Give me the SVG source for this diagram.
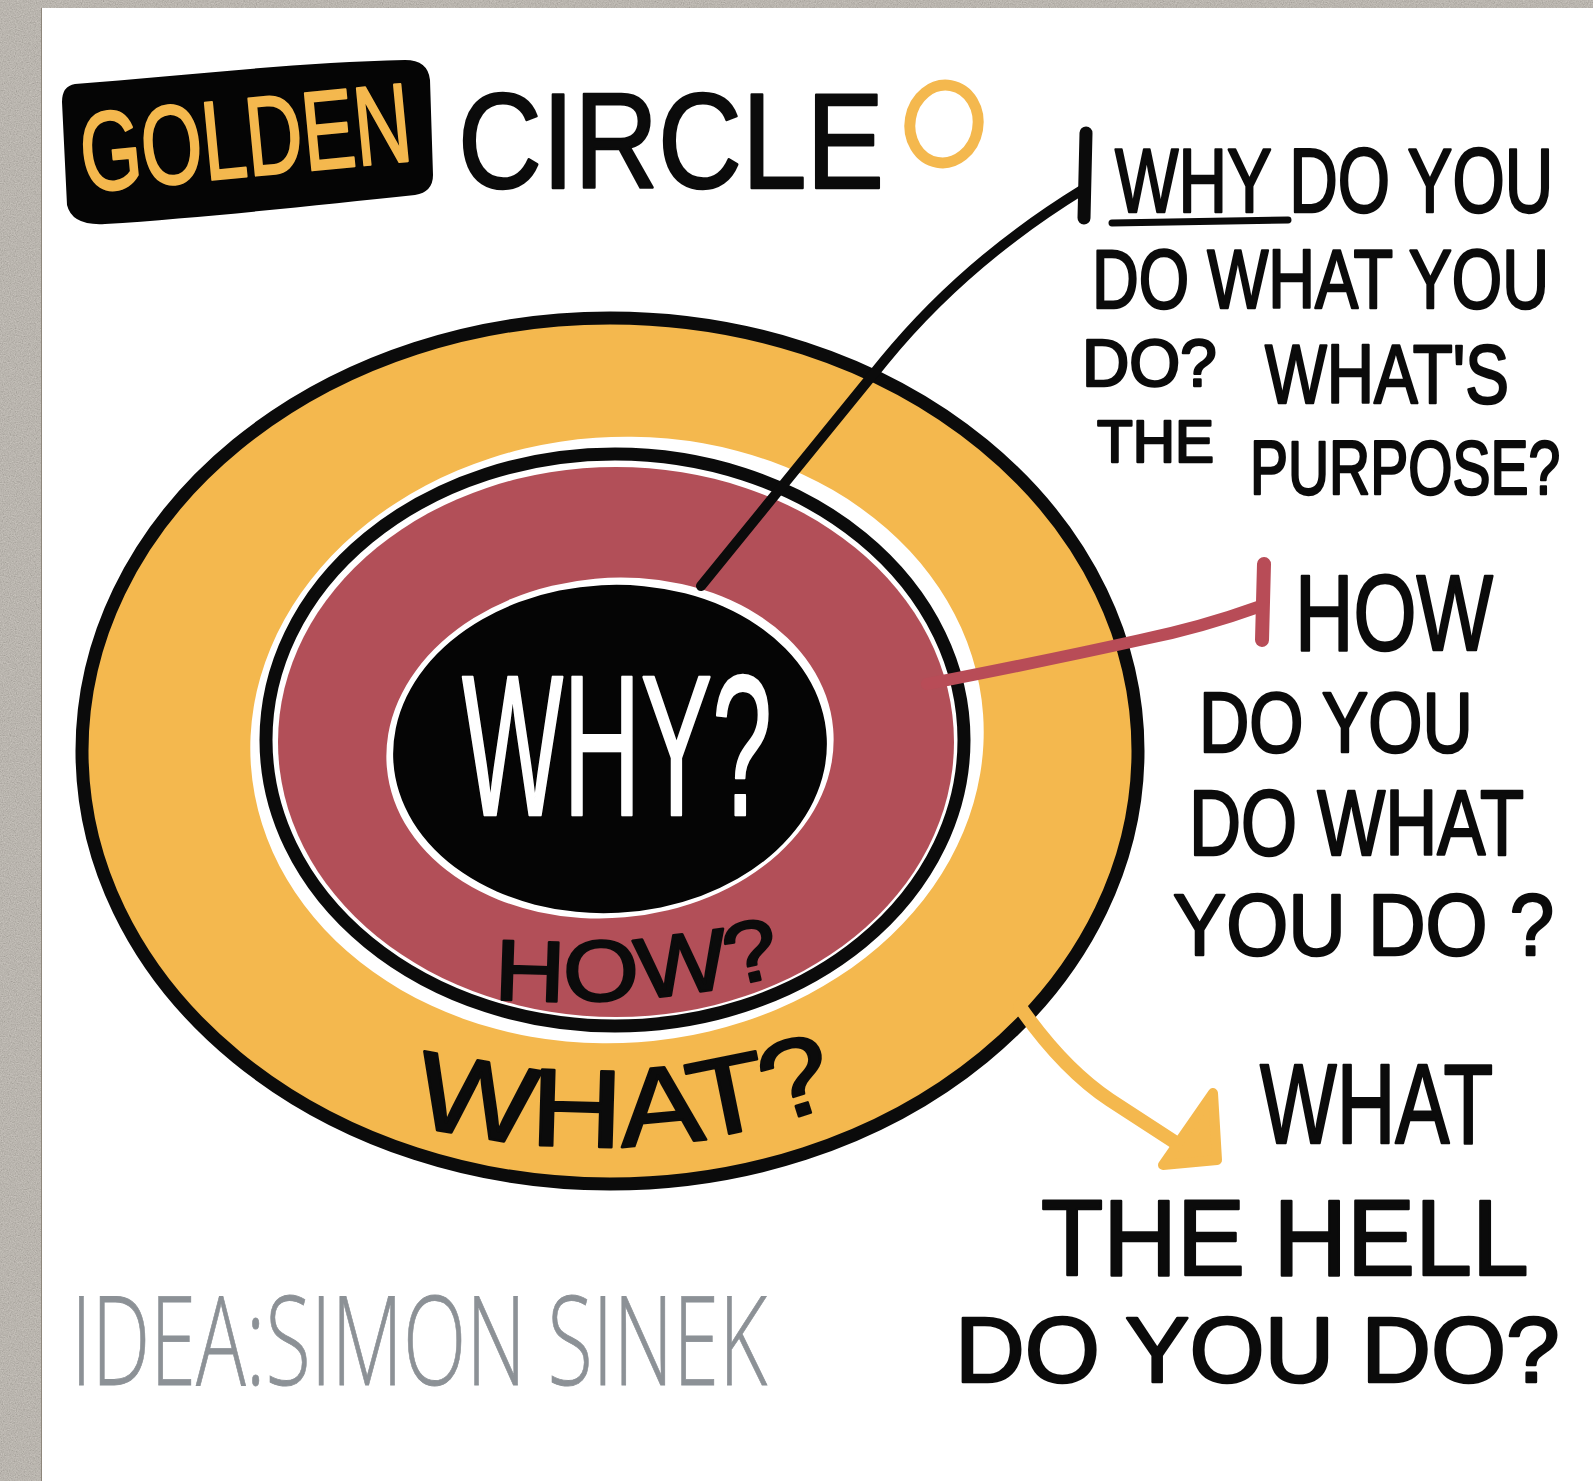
<svg xmlns="http://www.w3.org/2000/svg" width="1593" height="1481" viewBox="0 0 1593 1481">
<defs>
<style>
.hand{font-family:"Liberation Sans","DejaVu Sans",sans-serif;fill:#0b0b0b;stroke:#0b0b0b;stroke-width:2.5;stroke-linejoin:round;}
.inv{fill:#ffffff;stroke:#ffffff;}
.gold{fill:#F4B84E;stroke:#F4B84E;}
.gray{font-family:"Open Sans","Lato","Liberation Sans",sans-serif;font-weight:300;fill:#8C9196;stroke:#8C9196;stroke-width:0.8;}
.ink{fill:none;stroke:#0b0b0b;stroke-linecap:round;stroke-linejoin:round;}
</style>
<filter id="grain" x="0" y="0" width="100%" height="100%">
<feTurbulence type="fractalNoise" baseFrequency="0.85" numOctaves="2" seed="4" result="n"/>
<feColorMatrix in="n" type="matrix" values="0.33 0.33 0.33 0 0  0.33 0.33 0.33 0 0  0.33 0.33 0.33 0 0  0 0 0 0 0.45"/>
</filter>
<path id="whatArc" d="M 398 1120 Q 640 1184 862 1094"/>
<path id="howArc" d="M 494 999 Q 665 1010 805 968"/>
</defs>

<!-- background board -->
<rect x="0" y="0" width="1593" height="1481" fill="#B8B0A4"/>
<rect x="0" y="0" width="1593" height="1481" filter="url(#grain)"/>
<rect x="41" y="8" width="1552" height="1473" fill="#ffffff"/>
<line x1="41.5" y1="8" x2="41.5" y2="1481" stroke="#8d867b" stroke-width="1"/>

<!-- golden circle rings -->
<g id="circle-what">
<ellipse cx="610" cy="751" rx="528" ry="433" fill="#F4B84E" stroke="#0b0b0b" stroke-width="13"/>
<ellipse cx="617" cy="740" rx="367" ry="303" transform="rotate(-4 617 740)" fill="#ffffff"/>
</g>
<g id="circle-how">
<ellipse cx="615" cy="740" rx="349" ry="286" fill="#ffffff" stroke="#0b0b0b" stroke-width="13"/>
<ellipse cx="616" cy="742" rx="338" ry="275" fill="#B24F58"/>
<ellipse cx="610" cy="748" rx="224" ry="170" transform="rotate(-5 610 748)" fill="#ffffff"/>
</g>
<g id="circle-why">
<ellipse cx="610" cy="749" rx="217" ry="164" transform="rotate(-3 610 749)" fill="#050505"/>
<text class="hand inv" transform="translate(462 815) scale(0.536 1)" font-size="200" textLength="578" lengthAdjust="spacingAndGlyphs" stroke-width="4">WHY?</text>
</g>
<g id="ring-label-how">
<text class="hand" font-size="86" stroke-width="3"><textPath href="#howArc" textLength="292" lengthAdjust="spacingAndGlyphs">HOW?</textPath></text>
</g>
<g id="ring-label-what">
<text class="hand" font-size="110" stroke-width="3"><textPath href="#whatArc" startOffset="14" textLength="436" lengthAdjust="spacingAndGlyphs">WHAT?</textPath></text>
</g>

<!-- title -->
<g id="title">
<path d="M 75 84 C 180 76 300 62 405 60 Q 428 60 430 80 L 433 175 Q 433 192 415 195 C 320 205 200 218 105 224 Q 72 226 67 205 L 62 102 Q 62 86 75 84 Z" fill="#050505"/>
<text class="hand gold" transform="rotate(-5.5 84 192) translate(84 192) scale(0.70 1)" font-size="112" textLength="474" lengthAdjust="spacingAndGlyphs">GOLDEN</text>
<text class="hand" transform="translate(458 188) scale(0.842 1)" font-size="136" textLength="506" lengthAdjust="spacingAndGlyphs" stroke-width="3">CIRCLE</text>
<ellipse cx="944" cy="124" rx="34" ry="39" transform="rotate(10 944 124)" fill="none" stroke="#F4B84E" stroke-width="11"/>
</g>

<!-- connectors -->
<g id="connectors">
<path class="ink" d="M 701 586 L 884 361 Q 965 262 1082 190" stroke-width="10"/>
<line class="ink" x1="1086" y1="133" x2="1084" y2="218" stroke-width="13"/>
<path d="M 927 684 Q 1050 660 1140 640 Q 1200 628 1261 606" fill="none" stroke="#B84C57" stroke-width="12" stroke-linecap="round"/>
<line x1="1264" y1="564" x2="1262" y2="640" stroke="#B84C57" stroke-width="14" stroke-linecap="round"/>
<path d="M 1020 1007 C 1050 1050 1080 1080 1110 1100 L 1190 1152" fill="none" stroke="#F4B84E" stroke-width="14" stroke-linecap="round"/>
<polygon points="1213,1093 1217,1160 1163,1165" fill="#F4B84E" stroke="#F4B84E" stroke-width="10" stroke-linejoin="round"/>
</g>

<!-- WHY label -->
<g id="label-why">
<text class="hand" transform="translate(1115 212) scale(0.70 1)" font-size="90" textLength="626" lengthAdjust="spacingAndGlyphs">WHY DO YOU</text>
<line class="ink" x1="1112" y1="223" x2="1288" y2="220" stroke-width="7"/>
<text class="hand" transform="translate(1092 308) scale(0.73 1)" font-size="84" textLength="626" lengthAdjust="spacingAndGlyphs">DO WHAT YOU</text>
<text class="hand" transform="translate(1082 386) scale(0.99 1)" font-size="66" textLength="136" lengthAdjust="spacingAndGlyphs">DO?</text>
<text class="hand" transform="translate(1265 403) scale(0.765 1)" font-size="84" textLength="319" lengthAdjust="spacingAndGlyphs">WHAT'S</text>
<text class="hand" transform="translate(1097 462) scale(0.975 1)" font-size="60" textLength="120" lengthAdjust="spacingAndGlyphs">THE</text>
<text class="hand" transform="translate(1250 494) scale(0.749 1)" font-size="76" textLength="414" lengthAdjust="spacingAndGlyphs">PURPOSE?</text>
</g>

<!-- HOW label -->
<g id="label-how">
<text class="hand" transform="translate(1295 650) scale(0.75 1)" font-size="108" textLength="264" lengthAdjust="spacingAndGlyphs">HOW</text>
<text class="hand" transform="translate(1199 752) scale(0.81 1)" font-size="86" textLength="338" lengthAdjust="spacingAndGlyphs">DO YOU</text>
<text class="hand" transform="translate(1189 855) scale(0.77 1)" font-size="92" textLength="435" lengthAdjust="spacingAndGlyphs">DO WHAT</text>
<text class="hand" transform="translate(1173 955) scale(0.905 1)" font-size="88" textLength="421" lengthAdjust="spacingAndGlyphs">YOU DO ?</text>
</g>

<!-- WHAT label -->
<g id="label-what">
<text class="hand" transform="translate(1260 1143) scale(0.70 1)" font-size="113" textLength="333" lengthAdjust="spacingAndGlyphs">WHAT</text>
<text class="hand" transform="translate(1041 1275) scale(0.945 1)" font-size="108" textLength="516" lengthAdjust="spacingAndGlyphs">THE HELL</text>
<text class="hand" transform="translate(955 1382) scale(1.05 1)" font-size="92" textLength="576" lengthAdjust="spacingAndGlyphs">DO YOU DO?</text>
</g>

<!-- credit -->
<g id="credit">
<text class="gray" transform="translate(71 1385) scale(0.6 1)" font-size="124" textLength="1160" lengthAdjust="spacingAndGlyphs">IDEA:SIMON SINEK</text>
</g>
</svg>
